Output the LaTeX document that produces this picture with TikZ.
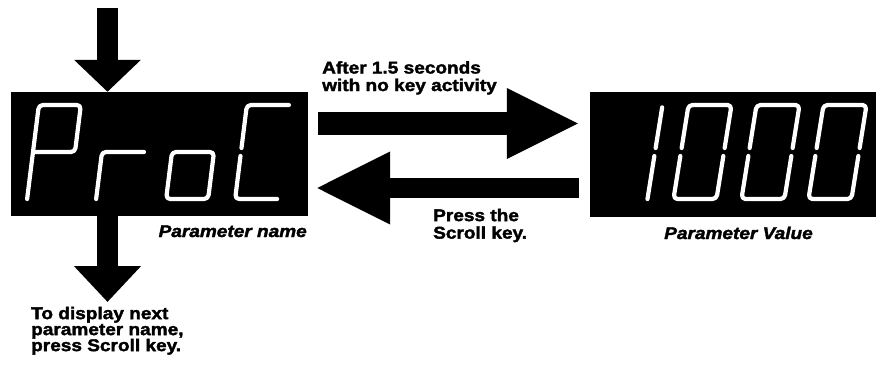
\documentclass[tikz,border=0pt]{standalone}
\usepackage{fontspec}
\setmainfont{Liberation Sans}[FakeStretch=1.12, BoldFeatures={FakeBold=2}, BoldItalicFeatures={FakeBold=2}]
\usetikzlibrary{arrows.meta,calc}

% coordinates of one slanted seven-segment cell: prefix, middle-left x, slant, width
\newcommand{\digcoords}[4]{%
  \coordinate (#1TL) at ({#2+#3*47},105);
  \coordinate (#1TR) at ({#2+#4+#3*47},105);
  \coordinate (#1ML) at (#2,152);
  \coordinate (#1MR) at ({#2+#4},152);
  \coordinate (#1BL) at ({#2-#3*47},199);
  \coordinate (#1BR) at ({#2+#4-#3*47},199);
  \coordinate (#1MLu) at ({#2+#3*4},148);
  \coordinate (#1MLd) at ({#2-#3*4},156);
  \coordinate (#1MRu) at ({#2+#4+#3*4},148);
  \coordinate (#1MRd) at ({#2+#4-#3*4},156);
}

\begin{document}
\begin{tikzpicture}[x=1pt,y=-1pt,
  display/.style={fill=black, draw=none, inner sep=0pt},
  seg/.style={white, line width=4.2pt, line cap=round, line join=round, rounded corners=4pt},
  lbl/.style={font=\fontsize{17}{17.5}\selectfont\bfseries, inner sep=0pt, align=left},
  dispcaption/.style={font=\fontsize{17}{17}\selectfont\bfseries\itshape, inner sep=0pt},
  bigarrow/.style n args={3}{line width=#1, -{Triangle[length=#2, width=#3]}}
]
\useasboundingbox[fill=white] (0,0) rectangle (883,372);

% displays
\node[display, minimum width=297pt, minimum height=124pt] (L) at (159.5,154) {};
\node[display, minimum width=286pt, minimum height=125pt] (R) at (733,154.5) {};

% ProC
\digcoords{p}{33}{0.125}{42}
\digcoords{r}{102}{0.125}{42}
\digcoords{o}{172}{0.125}{42}
\digcoords{c}{241}{0.125}{42}
\draw[seg] (pBL) -- (pTL) -- (pTR) -- (pMR) -- (pML);
\draw[seg] (rMR) -- (rML) -- (rBL);
\draw[seg] (oML) -- (oMR) -- (oBR) -- (oBL) -- cycle;
\draw[seg] (cTR) -- (cTL) -- (cMLu);
\draw[seg] (cMLd) -- (cBL) -- (cBR);

% 1000
\digcoords{a}{612}{0.16}{43}
\digcoords{b}{681}{0.16}{43}
\digcoords{d}{749}{0.16}{43}
\digcoords{e}{816}{0.16}{43}
\draw[seg] ($(aTR)!0.05!(aMR)$) -- (aMRu);
\draw[seg] (aMRd) -- (aBR);
\foreach \q in {b,d,e}{
  \draw[seg] (\q MLu) -- (\q TL) -- (\q TR) -- (\q MRu);
  \draw[seg] (\q MRd) -- (\q BR) -- (\q BL) -- (\q MLd);
}

% arrows
\coordinate (topin) at (107.5,8);
\coordinate (botout) at (107.5,302);
\coordinate (fwd) at (318,123.5);
\coordinate (back) at (579,188);
\draw[bigarrow={21pt}{32pt}{65pt}] (topin) -- (topin |- L.north);
\draw[bigarrow={21pt}{36pt}{65pt}] (botout |- L.south) -- (botout);
\draw[bigarrow={23pt}{73pt}{65pt}, shorten >=10pt] (fwd) -- (fwd -| R.west);
\draw[bigarrow={20pt}{75pt}{67pt}, shorten >=7pt] (back) -- (back -| L.east);

% texts
\node[lbl, anchor=north west] (t1) at (322,61) {After 1.5 seconds\\with no key activity};
\node[lbl, anchor=north west] (t2) at (433,208.6) {Press the\\Scroll key.};
\node[lbl, font=\fontsize{17}{16}\selectfont\bfseries, anchor=north west] (t3) at (31,306.6) {To display next\\parameter name,\\press Scroll key.};
\node[dispcaption, anchor=base east] (c1) at (307,237) {Parameter name};
\node[dispcaption, anchor=base] (c2) at (738.5,239) {Parameter Value};
\end{tikzpicture}
\end{document}
